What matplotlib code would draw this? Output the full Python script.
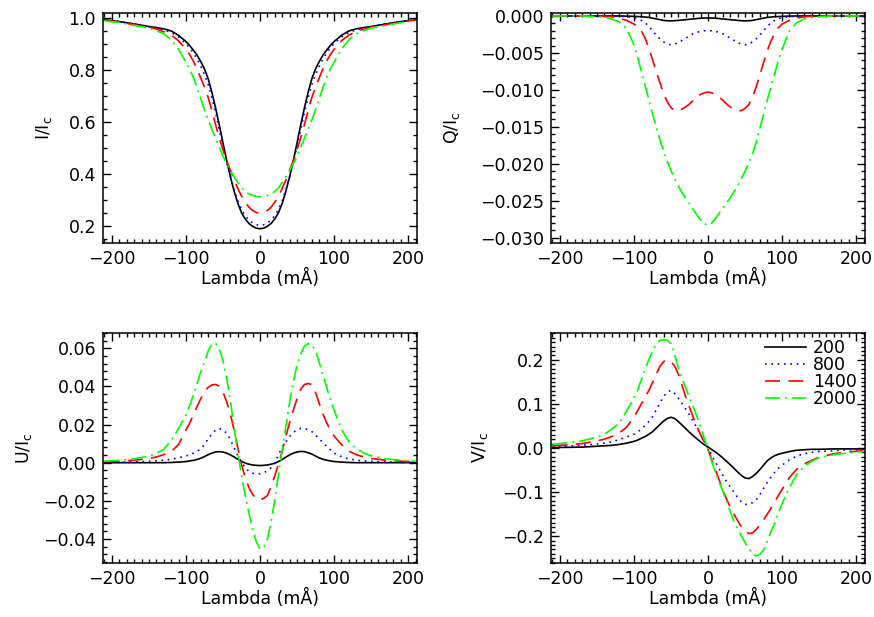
import numpy as np
import matplotlib
matplotlib.use('Agg')
import matplotlib.pyplot as plt
from matplotlib.ticker import MultipleLocator, FuncFormatter

plt.rcParams['font.family'] = ['DejaVu Sans']
plt.rcParams['font.size'] = 12.5
plt.rcParams['mathtext.default'] = 'regular'

# wavelength offset (mA): coarse in the wings, 5 mA steps in the core
lam = [-210, -190, -170, -150, -140, -130, -120, -110] + list(range(-100, 101, 5)) + [110, 120, 130, 140, 150, 170, 190, 210]

labels = ['200', '800', '1400', '2000']

# Stokes I / Ic
I_200 = [0.994, 0.987, 0.978, 0.968, 0.964, 0.959, 0.951, 0.934,
         0.910, 0.895, 0.877, 0.858, 0.833, 0.805, 0.767, 0.715, 0.655, 0.590, 0.520, 0.452, 0.390, 0.335, 0.288, 0.252, 0.228, 0.210, 0.199, 0.192, 0.190,
         0.192, 0.199, 0.210, 0.228, 0.252, 0.288, 0.335, 0.390, 0.452, 0.520, 0.590, 0.655, 0.715, 0.767, 0.805, 0.833, 0.858, 0.877, 0.895, 0.910,
         0.934, 0.951, 0.959, 0.964, 0.968, 0.978, 0.987, 0.994]
I_800 = [0.994, 0.987, 0.977, 0.967, 0.962, 0.955, 0.945, 0.928,
         0.902, 0.886, 0.866, 0.843, 0.815, 0.783, 0.745, 0.695, 0.636, 0.572, 0.505, 0.445, 0.390, 0.340, 0.298, 0.265, 0.240, 0.224, 0.212, 0.205, 0.203,
         0.205, 0.212, 0.224, 0.240, 0.265, 0.298, 0.340, 0.390, 0.445, 0.505, 0.572, 0.636, 0.695, 0.745, 0.783, 0.815, 0.843, 0.866, 0.886, 0.902,
         0.928, 0.945, 0.955, 0.962, 0.967, 0.977, 0.987, 0.994]
I_1400 = [0.993, 0.985, 0.975, 0.966, 0.958, 0.948, 0.935, 0.913,
          0.880, 0.860, 0.835, 0.805, 0.770, 0.735, 0.695, 0.645, 0.590, 0.540, 0.495, 0.452, 0.415, 0.378, 0.345, 0.316, 0.292, 0.273, 0.260, 0.252, 0.250,
          0.252, 0.260, 0.273, 0.292, 0.316, 0.345, 0.378, 0.415, 0.452, 0.495, 0.540, 0.590, 0.645, 0.695, 0.735, 0.770, 0.805, 0.835, 0.860, 0.880,
          0.913, 0.935, 0.948, 0.958, 0.966, 0.975, 0.985, 0.993]
I_2000 = [0.990, 0.983, 0.972, 0.962, 0.952, 0.940, 0.917, 0.880,
          0.831, 0.805, 0.772, 0.733, 0.690, 0.648, 0.608, 0.572, 0.538, 0.503, 0.469, 0.440, 0.414, 0.390, 0.368, 0.348, 0.333, 0.324, 0.318, 0.314, 0.312,
          0.314, 0.318, 0.324, 0.333, 0.348, 0.368, 0.390, 0.414, 0.440, 0.469, 0.503, 0.538, 0.572, 0.608, 0.648, 0.690, 0.733, 0.772, 0.805, 0.831,
          0.880, 0.917, 0.940, 0.952, 0.962, 0.972, 0.983, 0.990]

# Stokes Q / Ic
Q_200 = [0, 0, 0, 0, 0, 0, 0, -0.00002,
         -0.00005, -0.00008, -0.0001, -0.00015, -0.0002, -0.0003, -0.0004, -0.0005, -0.0006, -0.00065, -0.00066, -0.00064, -0.0006, -0.00055, -0.0005, -0.00045, -0.0004, -0.00035, -0.0003, -0.00028, -0.00027,
         -0.00028, -0.0003, -0.00035, -0.0004, -0.00045, -0.0005, -0.00055, -0.0006, -0.00064, -0.00066, -0.00065, -0.0006, -0.0005, -0.0004, -0.0003, -0.0002, -0.00015, -0.0001, -0.00008, -0.00005,
         -0.00002, 0, 0, 0, 0, 0, 0, 0]
Q_800 = [0, 0, 0, 0, 0, 0, -0.00003, -0.0001,
         -0.0002, -0.0004, -0.0006, -0.0009, -0.0014, -0.0020, -0.0026, -0.0031, -0.0035, -0.0038, -0.0039, -0.0038, -0.0036, -0.0033, -0.0030, -0.0027, -0.0024, -0.0022, -0.0021, -0.0020, -0.0020,
         -0.0020, -0.0021, -0.0022, -0.0024, -0.0027, -0.0030, -0.0033, -0.0036, -0.0038, -0.0039, -0.0038, -0.0035, -0.0031, -0.0026, -0.0020, -0.0014, -0.0009, -0.0006, -0.0004, -0.0002,
         -0.0001, -0.00003, 0, 0, 0, 0, 0, 0]
Q_1400 = [0, 0, 0, 0, -0.00005, -0.0001, -0.0003, -0.0006,
          -0.0011, -0.0015, -0.0020, -0.0030, -0.0043, -0.0059, -0.0075, -0.0090, -0.0105, -0.0116, -0.0124, -0.0128, -0.0128, -0.0126, -0.0123, -0.0119, -0.0114, -0.0110, -0.0106, -0.0104, -0.0103,
          -0.0104, -0.0106, -0.0110, -0.0114, -0.0119, -0.0123, -0.0126, -0.0128, -0.0128, -0.0125, -0.0120, -0.0110, -0.0096, -0.0080, -0.0063, -0.0047, -0.0034, -0.0024, -0.0016, -0.0011,
          -0.0006, -0.0003, -0.0001, -0.00005, 0, 0, 0, 0]
Q_2000 = [0, 0, 0, -0.0001, -0.0002, -0.0004, -0.0008, -0.0017,
          -0.0039, -0.0056, -0.0075, -0.0094, -0.0113, -0.0132, -0.0150, -0.0167, -0.0183, -0.0197, -0.0209, -0.0220, -0.0230, -0.0239, -0.0247, -0.0254, -0.0262, -0.0269, -0.0276, -0.0281, -0.0283,
          -0.0280, -0.0274, -0.0267, -0.0260, -0.0253, -0.0246, -0.0238, -0.0230, -0.0220, -0.0210, -0.0199, -0.0187, -0.0171, -0.0152, -0.0133, -0.0114, -0.0096, -0.0078, -0.0060, -0.0045,
          -0.0020, -0.0009, -0.0004, -0.0002, -0.0001, 0, 0, 0]

# Stokes U / Ic
U_200 = [0, 0, 0, 0, 0, 0, 0.0001, 0.0003,
         0.0006, 0.0009, 0.0012, 0.0017, 0.0023, 0.0032, 0.0042, 0.0050, 0.0056, 0.0058, 0.0056, 0.0050, 0.0041, 0.0030, 0.0018, 0.0007, -0.0002, -0.0008, -0.0012, -0.0014, -0.0015,
         -0.0014, -0.0012, -0.0008, -0.0003, 0.0006, 0.0017, 0.0029, 0.0041, 0.0050, 0.0056, 0.0059, 0.0058, 0.0052, 0.0045, 0.0035, 0.0025, 0.0018, 0.0013, 0.0009, 0.0006,
         0.0003, 0.0001, 0, 0, 0, 0, 0, 0]
U_800 = [0.0001, 0.0002, 0.0004, 0.0007, 0.0010, 0.0013, 0.0018, 0.0026,
         0.0035, 0.0042, 0.0050, 0.0060, 0.0073, 0.0095, 0.0125, 0.0150, 0.0171, 0.0179, 0.0172, 0.0155, 0.0122, 0.0078, 0.0038, 0.0004, -0.0027, -0.0045, -0.0055, -0.0058, -0.0058,
         -0.0053, -0.0043, -0.0026, -0.0002, 0.0042, 0.0082, 0.0110, 0.0138, 0.0158, 0.0173, 0.0180, 0.0179, 0.0173, 0.0163, 0.0145, 0.0125, 0.0105, 0.0085, 0.0068, 0.0050,
         0.0032, 0.0020, 0.0013, 0.0010, 0.0007, 0.0004, 0.0002, 0.0001]
U_1400 = [0.0005, 0.0008, 0.0013, 0.0022, 0.0030, 0.0042, 0.0058, 0.0095,
          0.0170, 0.0207, 0.0250, 0.0295, 0.0335, 0.0370, 0.0395, 0.0408, 0.0410, 0.0402, 0.0370, 0.0320, 0.0255, 0.0170, 0.0078, -0.0008, -0.0078, -0.0130, -0.0167, -0.0188, -0.0195,
          -0.0187, -0.0172, -0.0125, -0.0068, -0.0005, 0.0060, 0.0140, 0.0210, 0.0275, 0.0335, 0.0385, 0.0410, 0.0415, 0.0410, 0.0368, 0.0310, 0.0255, 0.0210, 0.0168, 0.0140,
          0.0095, 0.0060, 0.0042, 0.0030, 0.0022, 0.0013, 0.0008, 0.0005]
U_2000 = [0.0008, 0.0012, 0.0020, 0.0035, 0.0048, 0.0070, 0.0116, 0.0178,
          0.0250, 0.0298, 0.0355, 0.0415, 0.0475, 0.0528, 0.0585, 0.0622, 0.0627, 0.0595, 0.0535, 0.0445, 0.0325, 0.0185, 0.0055, -0.0065, -0.0170, -0.0265, -0.0350, -0.0415, -0.0452,
          -0.0445, -0.0400, -0.0310, -0.0195, -0.0060, 0.0065, 0.0190, 0.0318, 0.0425, 0.0510, 0.0570, 0.0612, 0.0625, 0.0618, 0.0585, 0.0525, 0.0460, 0.0395, 0.0330, 0.0275,
          0.0175, 0.0110, 0.0075, 0.0050, 0.0036, 0.0020, 0.0012, 0.0008]

# Stokes V / Ic
V_200 = [0.001, 0.0015, 0.002, 0.004, 0.005, 0.006, 0.008, 0.011,
         0.015, 0.018, 0.022, 0.026, 0.031, 0.037, 0.045, 0.053, 0.061, 0.067, 0.0698, 0.067, 0.060, 0.052, 0.044, 0.0355, 0.028, 0.021, 0.0138, 0.0075, 0.0025,
         -0.0035, -0.009, -0.0155, -0.0225, -0.030, -0.038, -0.046, -0.0545, -0.062, -0.068, -0.0695, -0.065, -0.058, -0.049, -0.039, -0.029, -0.0225, -0.0175, -0.0142, -0.012,
         -0.008, -0.005, -0.004, -0.003, -0.003, -0.002, -0.002, -0.002]
V_800 = [0.003, 0.004, 0.006, 0.009, 0.011, 0.014, 0.019, 0.025,
         0.031, 0.036, 0.043, 0.051, 0.060, 0.071, 0.086, 0.102, 0.117, 0.127, 0.131, 0.124, 0.113, 0.101, 0.088, 0.075, 0.061, 0.046, 0.031, 0.015, 0.000,
         -0.016, -0.032, -0.047, -0.062, -0.076, -0.088, -0.100, -0.112, -0.122, -0.128, -0.128, -0.124, -0.118, -0.106, -0.092, -0.078, -0.066, -0.055, -0.046, -0.039,
         -0.027, -0.018, -0.013, -0.010, -0.008, -0.006, -0.004, -0.003]
V_1400 = [0.005, 0.007, 0.010, 0.016, 0.020, 0.026, 0.034, 0.047,
          0.070, 0.085, 0.100, 0.115, 0.130, 0.148, 0.167, 0.185, 0.196, 0.200, 0.196, 0.186, 0.168, 0.142, 0.115, 0.092, 0.070, 0.049, 0.030, 0.013, -0.003,
          -0.027, -0.049, -0.072, -0.094, -0.116, -0.134, -0.150, -0.165, -0.179, -0.189, -0.194, -0.193, -0.185, -0.175, -0.163, -0.150, -0.137, -0.122, -0.108, -0.094,
          -0.067, -0.048, -0.036, -0.028, -0.021, -0.013, -0.009, -0.006]
V_2000 = [0.008, 0.012, 0.016, 0.025, 0.031, 0.043, 0.056, 0.084,
          0.113, 0.132, 0.155, 0.179, 0.200, 0.220, 0.235, 0.244, 0.246, 0.245, 0.236, 0.212, 0.181, 0.158, 0.136, 0.114, 0.093, 0.072, 0.048, 0.022, -0.004,
          -0.031, -0.055, -0.077, -0.098, -0.121, -0.144, -0.166, -0.184, -0.200, -0.214, -0.229, -0.240, -0.245, -0.242, -0.231, -0.212, -0.190, -0.170, -0.147, -0.126,
          -0.090, -0.060, -0.042, -0.030, -0.022, -0.015, -0.011, -0.008]

colors = ['black', '#0000ff', '#ff0000', '#00ff00']
dashes = [None, (1.0, 2.8), (9, 5), (9, 3, 1.2, 3)]


def fmt(nd):
    def f(v, pos):
        s = '%.*f' % (nd, v)
        if float(s) == 0:
            s = '%.*f' % (nd, 0.0)
        return s.replace('-', '\u2212')
    return FuncFormatter(f)


fig = plt.figure(figsize=(8.74, 6.17), dpi=100)
W, H = 874, 617
boxes = [(103, 13), (551, 13), (103, 333), (551, 333)]
panels = [
    ([I_200, I_800, I_1400, I_2000], r'I/I$_c$', (0.135, 1.02), 0.2, 0.05, 1, -0.155),
    ([Q_200, Q_800, Q_1400, Q_2000], r'Q/I$_c$', (-0.0307, 0.0004), 0.005, 0.001, 3, -0.283),
    ([U_200, U_800, U_1400, U_2000], r'U/I$_c$', (-0.0526, 0.068), 0.02, 0.004, 2, -0.22),
    ([V_200, V_800, V_1400, V_2000], r'V/I$_c$', (-0.261, 0.261), 0.1, 0.01, 1, -0.195),
]

for (x0, y0), (series, ylab, ylim, major, minor, nd, lx) in zip(boxes, panels):
    ax = fig.add_axes([x0 / W, 1 - (y0 + 230) / H, 314 / W, 230 / H])
    for s, c, d, lab in zip(series, colors, dashes, labels):
        line, = ax.plot(lam, s, color=c, lw=1.2, label=lab)
        if d is not None:
            line.set_dashes(d)
    ax.set_xlim(-212, 212)
    ax.set_ylim(*ylim)
    ax.xaxis.set_major_locator(MultipleLocator(100))
    ax.xaxis.set_minor_locator(MultipleLocator(10))
    ax.yaxis.set_major_locator(MultipleLocator(major))
    ax.yaxis.set_minor_locator(MultipleLocator(minor))
    ax.yaxis.set_major_formatter(fmt(nd))
    ax.xaxis.set_major_formatter(fmt(0))
    ax.tick_params(which='both', direction='in', top=True, right=True, width=1.0)
    ax.tick_params(which='major', length=6, pad=5)
    ax.tick_params(which='minor', length=3)
    for sp in ax.spines.values():
        sp.set_linewidth(1.1)
    ax.set_xlabel('Lambda (m\u00c5)', labelpad=1)
    ax.set_ylabel(ylab)
    ax.yaxis.set_label_coords(lx, 0.5)

ax.legend(loc='upper right', bbox_to_anchor=(0.975, 0.975), frameon=False,
          handlelength=2.4, handletextpad=0.4, labelspacing=-0.05, borderaxespad=0,
          borderpad=0)

fig.savefig('out.png', dpi=100)
